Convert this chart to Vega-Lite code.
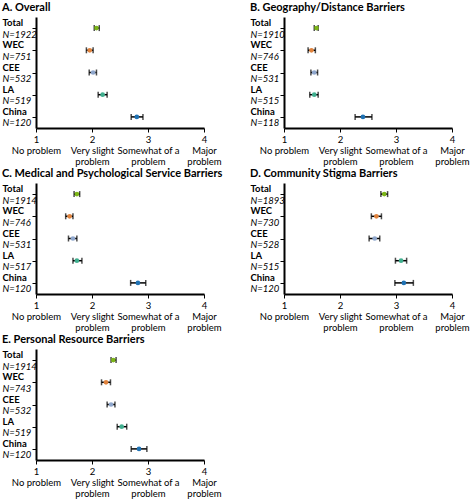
{
  "$schema": "https://vega.github.io/schema/vega-lite/v6.json",
  "padding": {"left": 2, "top": 2, "right": 0, "bottom": 2},
  "background": "white",
  "datasets": {
    "d": [
      {"p":"A","region":"Total","nlab":"N=1922","m":2.08,"lo":2.04,"hi":2.13},
      {"p":"A","region":"WEC","nlab":"N=751","m":1.96,"lo":1.90,"hi":2.02},
      {"p":"A","region":"CEE","nlab":"N=532","m":2.02,"lo":1.95,"hi":2.08},
      {"p":"A","region":"LA","nlab":"N=519","m":2.19,"lo":2.11,"hi":2.27},
      {"p":"A","region":"China","nlab":"N=120","m":2.80,"lo":2.70,"hi":2.91},
      {"p":"B","region":"Total","nlab":"N=1910","m":1.58,"lo":1.54,"hi":1.61},
      {"p":"B","region":"WEC","nlab":"N=746","m":1.49,"lo":1.43,"hi":1.56},
      {"p":"B","region":"CEE","nlab":"N=531","m":1.54,"lo":1.48,"hi":1.60},
      {"p":"B","region":"LA","nlab":"N=515","m":1.54,"lo":1.46,"hi":1.61},
      {"p":"B","region":"China","nlab":"N=118","m":2.41,"lo":2.27,"hi":2.57},
      {"p":"C","region":"Total","nlab":"N=1914","m":1.73,"lo":1.68,"hi":1.78},
      {"p":"C","region":"WEC","nlab":"N=746","m":1.60,"lo":1.53,"hi":1.66},
      {"p":"C","region":"CEE","nlab":"N=531","m":1.66,"lo":1.58,"hi":1.73},
      {"p":"C","region":"LA","nlab":"N=517","m":1.73,"lo":1.66,"hi":1.82},
      {"p":"C","region":"China","nlab":"N=120","m":2.82,"lo":2.69,"hi":2.96},
      {"p":"D","region":"Total","nlab":"N=1893","m":2.79,"lo":2.73,"hi":2.85},
      {"p":"D","region":"WEC","nlab":"N=730","m":2.65,"lo":2.56,"hi":2.74},
      {"p":"D","region":"CEE","nlab":"N=528","m":2.62,"lo":2.52,"hi":2.71},
      {"p":"D","region":"LA","nlab":"N=515","m":3.09,"lo":2.99,"hi":3.19},
      {"p":"D","region":"China","nlab":"N=120","m":3.14,"lo":2.98,"hi":3.31},
      {"p":"E","region":"Total","nlab":"N=1914","m":2.38,"lo":2.34,"hi":2.43},
      {"p":"E","region":"WEC","nlab":"N=743","m":2.25,"lo":2.17,"hi":2.33},
      {"p":"E","region":"CEE","nlab":"N=532","m":2.34,"lo":2.27,"hi":2.41},
      {"p":"E","region":"LA","nlab":"N=519","m":2.53,"lo":2.45,"hi":2.62},
      {"p":"E","region":"China","nlab":"N=120","m":2.84,"lo":2.70,"hi":2.98}
    ]
  },
  "data": {"name": "d"},
  "columns": 2,
  "spacing": {"column": 27, "row": 2},
  "concat": [
    {
      "title": "A. Overall",
      "width": 168, "height": 111,
      "transform": [{"filter": "datum.p === 'A'"}],
      "resolve": {"scale": {"y": "independent"}, "axis": {"y": "independent"}},
      "layer": [
        {"layer": [
          {"mark": {"type": "rule", "color": "black", "strokeWidth": 1.5},
           "encoding": {"x": {"field": "lo", "type": "quantitative", "scale": {"domain": [1, 4]}, "axis": {"values": [1,2,3,4]}}, "x2": {"field": "hi"}, "y": {"field": "region", "type": "nominal", "sort": null}}},
          {"mark": {"type": "tick", "color": "black", "thickness": 1.5, "size": 6},
           "encoding": {"x": {"field": "lo", "type": "quantitative", "axis": {"values": [1,2,3,4]}}, "y": {"field": "region", "type": "nominal", "sort": null}}},
          {"mark": {"type": "tick", "color": "black", "thickness": 1.5, "size": 6},
           "encoding": {"x": {"field": "hi", "type": "quantitative", "axis": {"values": [1,2,3,4]}}, "y": {"field": "region", "type": "nominal", "sort": null}}}
        ]},
        {"mark": {"type": "point", "filled": true, "size": 22, "opacity": 1, "shape": "circle"},
         "encoding": {"x": {"field": "m", "type": "quantitative", "axis": {"values": [1,2,3,4]}},
           "y": {"field": "nlab", "type": "nominal", "sort": null, "axis": {"orient": "left", "labelFontWeight": "normal", "labelFontStyle": "italic", "labelOffset": 6, "domain": true, "tickOpacity": 1}},
           "color": {"field": "region", "type": "nominal", "legend": null, "scale": {"domain": ["Total","WEC","CEE","LA","China"], "range": ["#7cb518","#e0823c","#8ea6cc","#3fae8e","#1f72b4"]}}}}
      ]
    },
    {
      "title": "B. Geography/Distance Barriers",
      "width": 168, "height": 111,
      "transform": [{"filter": "datum.p === 'B'"}],
      "resolve": {"scale": {"y": "independent"}, "axis": {"y": "independent"}},
      "layer": [
        {"layer": [
          {"mark": {"type": "rule", "color": "black", "strokeWidth": 1.5},
           "encoding": {"x": {"field": "lo", "type": "quantitative", "scale": {"domain": [1, 4]}, "axis": {"values": [1,2,3,4]}}, "x2": {"field": "hi"}, "y": {"field": "region", "type": "nominal", "sort": null}}},
          {"mark": {"type": "tick", "color": "black", "thickness": 1.5, "size": 6},
           "encoding": {"x": {"field": "lo", "type": "quantitative", "axis": {"values": [1,2,3,4]}}, "y": {"field": "region", "type": "nominal", "sort": null}}},
          {"mark": {"type": "tick", "color": "black", "thickness": 1.5, "size": 6},
           "encoding": {"x": {"field": "hi", "type": "quantitative", "axis": {"values": [1,2,3,4]}}, "y": {"field": "region", "type": "nominal", "sort": null}}}
        ]},
        {"mark": {"type": "point", "filled": true, "size": 22, "opacity": 1, "shape": "circle"},
         "encoding": {"x": {"field": "m", "type": "quantitative", "axis": {"values": [1,2,3,4]}},
           "y": {"field": "nlab", "type": "nominal", "sort": null, "axis": {"orient": "left", "labelFontWeight": "normal", "labelFontStyle": "italic", "labelOffset": 6, "domain": true, "tickOpacity": 1}},
           "color": {"field": "region", "type": "nominal", "legend": null, "scale": {"domain": ["Total","WEC","CEE","LA","China"], "range": ["#7cb518","#e0823c","#8ea6cc","#3fae8e","#1f72b4"]}}}}
      ]
    },
    {
      "title": "C. Medical and Psychological Service Barriers",
      "width": 168, "height": 111,
      "transform": [{"filter": "datum.p === 'C'"}],
      "resolve": {"scale": {"y": "independent"}, "axis": {"y": "independent"}},
      "layer": [
        {"layer": [
          {"mark": {"type": "rule", "color": "black", "strokeWidth": 1.5},
           "encoding": {"x": {"field": "lo", "type": "quantitative", "scale": {"domain": [1, 4]}, "axis": {"values": [1,2,3,4]}}, "x2": {"field": "hi"}, "y": {"field": "region", "type": "nominal", "sort": null}}},
          {"mark": {"type": "tick", "color": "black", "thickness": 1.5, "size": 6},
           "encoding": {"x": {"field": "lo", "type": "quantitative", "axis": {"values": [1,2,3,4]}}, "y": {"field": "region", "type": "nominal", "sort": null}}},
          {"mark": {"type": "tick", "color": "black", "thickness": 1.5, "size": 6},
           "encoding": {"x": {"field": "hi", "type": "quantitative", "axis": {"values": [1,2,3,4]}}, "y": {"field": "region", "type": "nominal", "sort": null}}}
        ]},
        {"mark": {"type": "point", "filled": true, "size": 22, "opacity": 1, "shape": "circle"},
         "encoding": {"x": {"field": "m", "type": "quantitative", "axis": {"values": [1,2,3,4]}},
           "y": {"field": "nlab", "type": "nominal", "sort": null, "axis": {"orient": "left", "labelFontWeight": "normal", "labelFontStyle": "italic", "labelOffset": 6, "domain": true, "tickOpacity": 1}},
           "color": {"field": "region", "type": "nominal", "legend": null, "scale": {"domain": ["Total","WEC","CEE","LA","China"], "range": ["#7cb518","#e0823c","#8ea6cc","#3fae8e","#1f72b4"]}}}}
      ]
    },
    {
      "title": "D. Community Stigma Barriers",
      "width": 168, "height": 111,
      "transform": [{"filter": "datum.p === 'D'"}],
      "resolve": {"scale": {"y": "independent"}, "axis": {"y": "independent"}},
      "layer": [
        {"layer": [
          {"mark": {"type": "rule", "color": "black", "strokeWidth": 1.5},
           "encoding": {"x": {"field": "lo", "type": "quantitative", "scale": {"domain": [1, 4]}, "axis": {"values": [1,2,3,4]}}, "x2": {"field": "hi"}, "y": {"field": "region", "type": "nominal", "sort": null}}},
          {"mark": {"type": "tick", "color": "black", "thickness": 1.5, "size": 6},
           "encoding": {"x": {"field": "lo", "type": "quantitative", "axis": {"values": [1,2,3,4]}}, "y": {"field": "region", "type": "nominal", "sort": null}}},
          {"mark": {"type": "tick", "color": "black", "thickness": 1.5, "size": 6},
           "encoding": {"x": {"field": "hi", "type": "quantitative", "axis": {"values": [1,2,3,4]}}, "y": {"field": "region", "type": "nominal", "sort": null}}}
        ]},
        {"mark": {"type": "point", "filled": true, "size": 22, "opacity": 1, "shape": "circle"},
         "encoding": {"x": {"field": "m", "type": "quantitative", "axis": {"values": [1,2,3,4]}},
           "y": {"field": "nlab", "type": "nominal", "sort": null, "axis": {"orient": "left", "labelFontWeight": "normal", "labelFontStyle": "italic", "labelOffset": 6, "domain": true, "tickOpacity": 1}},
           "color": {"field": "region", "type": "nominal", "legend": null, "scale": {"domain": ["Total","WEC","CEE","LA","China"], "range": ["#7cb518","#e0823c","#8ea6cc","#3fae8e","#1f72b4"]}}}}
      ]
    },
    {
      "title": "E. Personal Resource Barriers",
      "width": 168, "height": 111,
      "transform": [{"filter": "datum.p === 'E'"}],
      "resolve": {"scale": {"y": "independent"}, "axis": {"y": "independent"}},
      "layer": [
        {"layer": [
          {"mark": {"type": "rule", "color": "black", "strokeWidth": 1.5},
           "encoding": {"x": {"field": "lo", "type": "quantitative", "scale": {"domain": [1, 4]}, "axis": {"values": [1,2,3,4]}}, "x2": {"field": "hi"}, "y": {"field": "region", "type": "nominal", "sort": null}}},
          {"mark": {"type": "tick", "color": "black", "thickness": 1.5, "size": 6},
           "encoding": {"x": {"field": "lo", "type": "quantitative", "axis": {"values": [1,2,3,4]}}, "y": {"field": "region", "type": "nominal", "sort": null}}},
          {"mark": {"type": "tick", "color": "black", "thickness": 1.5, "size": 6},
           "encoding": {"x": {"field": "hi", "type": "quantitative", "axis": {"values": [1,2,3,4]}}, "y": {"field": "region", "type": "nominal", "sort": null}}}
        ]},
        {"mark": {"type": "point", "filled": true, "size": 22, "opacity": 1, "shape": "circle"},
         "encoding": {"x": {"field": "m", "type": "quantitative", "axis": {"values": [1,2,3,4]}},
           "y": {"field": "nlab", "type": "nominal", "sort": null, "axis": {"orient": "left", "labelFontWeight": "normal", "labelFontStyle": "italic", "labelOffset": 6, "domain": true, "tickOpacity": 1}},
           "color": {"field": "region", "type": "nominal", "legend": null, "scale": {"domain": ["Total","WEC","CEE","LA","China"], "range": ["#7cb518","#e0823c","#8ea6cc","#3fae8e","#1f72b4"]}}}}
      ]
    }
  ],
  "config": {
    "font": "Lato",
    "view": {"stroke": null},
    "title": {"anchor": "start", "frame": "bounds", "fontSize": 11, "fontWeight": "bold", "color": "black", "offset": 4},
    "axis": {"title": null, "grid": false, "domain": true, "ticks": true, "domainColor": "black", "domainWidth": 2, "tickColor": "black", "tickWidth": 1, "tickSize": 4, "labelColor": "black", "labelFontSize": 9.5, "labelFont": "Lato"},
    "axisX": {"labelExpr": "datum.value == 1 ? ['1','No problem'] : datum.value == 2 ? ['2','Very slight','problem'] : datum.value == 3 ? ['3','Somewhat of a','problem'] : ['4','Major','problem']", "labelPadding": 2, "labelLineHeight": 11, "labelFlush": false, "labelOverlap": false, "labelBaseline": "top"},
    "axisY": {"labelAlign": "left", "labelPadding": 30, "labelBaseline": "middle", "labelFontWeight": "bold", "labelOffset": -5, "domain": false, "tickOpacity": 0}
  }
}
